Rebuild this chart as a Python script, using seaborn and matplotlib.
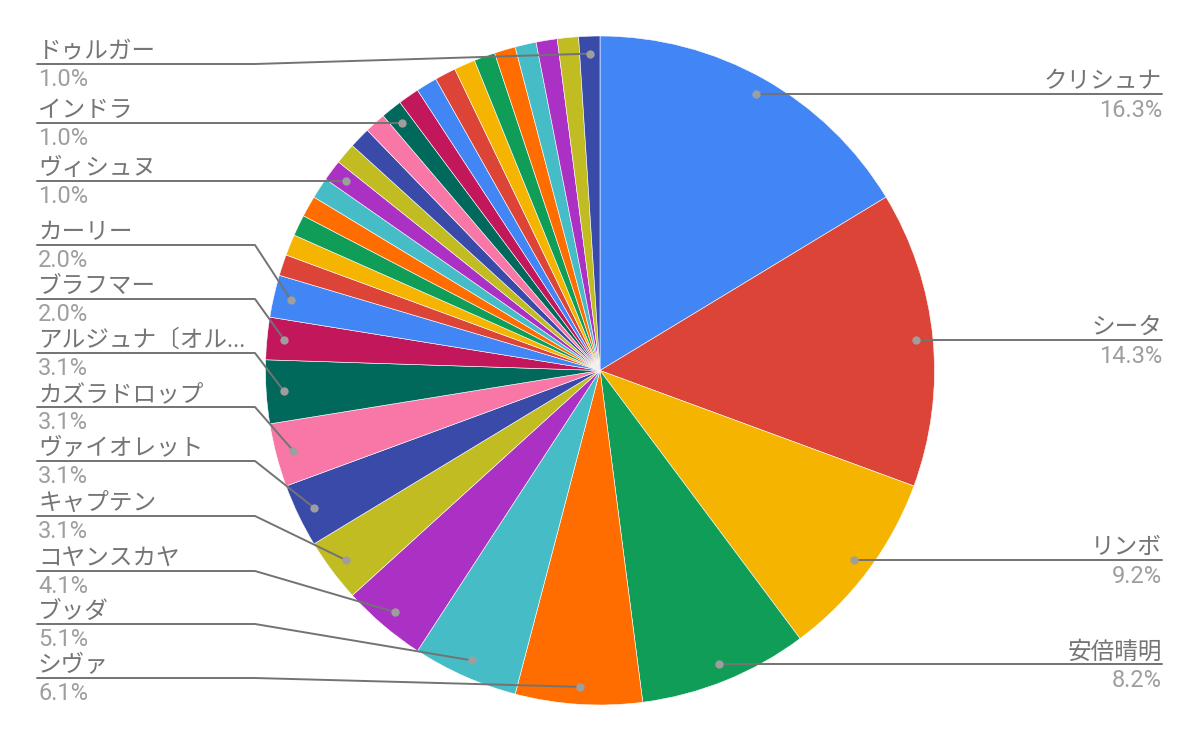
import numpy as np
import matplotlib
matplotlib.use("Agg")
import matplotlib.pyplot as plt
import seaborn as sns

# ---------------- data ----------------
names = [
    "クリシュナ", "シータ", "リンボ", "安倍晴明", "シヴァ", "ブッダ",
    "コヤンスカヤ", "キャプテン", "ヴァイオレット", "カズラドロップ",
    "アルジュナ〔オルタ〕", "ブラフマー", "カーリー",
    "", "", "", "", "", "ヴィシュヌ", "", "", "", "インドラ",
    "", "", "", "", "", "", "", "", "", "ドゥルガー",
]
counts = [16, 14, 9, 8, 6, 5, 4, 3, 3, 3, 3, 2, 2,
          1, 1, 1, 1, 1, 1, 1, 1, 1, 1,
          1, 1, 1, 1, 1, 1, 1, 1, 1, 1]

base_colors = ["#4285F4", "#DB4437", "#F4B400", "#0F9D58", "#FF6D00", "#46BDC6",
               "#AB30C4", "#C0BC22", "#3A4AA9", "#F877A7", "#00695C", "#C2185B"]

# labels on right (dot height) and on left (line heights in px from top)
right_labels = ["クリシュナ", "シータ", "リンボ", "安倍晴明"]
left_label_y_px = {
    "シヴァ": 678, "ブッダ": 624, "コヤンスカヤ": 571, "キャプテン": 516,
    "ヴァイオレット": 461, "カズラドロップ": 407, "アルジュナ〔オルタ〕": 353,
    "ブラフマー": 299, "カーリー": 245, "ヴィシュヌ": None, "インドラ": None,
    "ドゥルガー": 64,
}

# ---------------- style ----------------
sns.set_theme(style="white")
plt.rcParams["font.family"] = ["Roboto", "Noto Sans CJK JP", "DejaVu Sans"]

W, H = 1200, 742
fig = plt.figure(figsize=(W / 100, H / 100), dpi=100)
ax = fig.add_axes([0, 0, 1, 1])

colors = [base_colors[i % len(base_colors)] for i in range(len(counts))]
colors = sns.color_palette(colors)

cx, cy = 600, H - 370.5
R = 334.5
ax.pie(counts, colors=colors, startangle=90, counterclock=False,
       center=(cx, cy), radius=R,
       wedgeprops=dict(linewidth=0.4, edgecolor="white"))
ax.set_xlim(0, W)
ax.set_ylim(0, H)
ax.set_aspect("equal")
ax.axis("off")

total = sum(counts)
cum = np.cumsum(counts)
line_c = "#737373"
name_c = "#757575"
pct_c = "#9E9E9E"
dot_c = "#9E9E9E"
fs = 17
rd = 317
lw = 1.4

def short(n):
    return n[:8] + "..." if len(n) > 8 else n

for i, (n, v) in enumerate(zip(names, counts)):
    if not n:
        continue
    mid = (cum[i] - v / 2) / total * 2 * np.pi
    dx, dy = cx + rd * np.sin(mid), cy + rd * np.cos(mid)
    pct = f"{v / total * 100:.1f}%"
    if n in right_labels:
        ly = dy
        ax.plot([dx, 1162], [ly, ly], color=line_c, lw=lw, zorder=3)
        ax.text(1162, ly + 6, n, ha="right", va="baseline", fontsize=fs, color=name_c)
        ax.text(1162, ly - 23, pct, ha="right", va="baseline", fontsize=fs, color=pct_c)
    else:
        lyp = left_label_y_px.get(n)
        ly = dy if lyp is None else H - lyp
        ax.plot([37, 255, dx], [ly, ly, dy], color=line_c, lw=lw, zorder=3)
        ax.text(38, ly + 6, short(n), ha="left", va="baseline", fontsize=fs, color=name_c)
        ax.text(38, ly - 22, pct, ha="left", va="baseline", fontsize=fs, color=pct_c)
    ax.scatter([dx], [dy], s=36, color=dot_c, zorder=4, linewidths=0)

fig.savefig("out.png", dpi=100)
